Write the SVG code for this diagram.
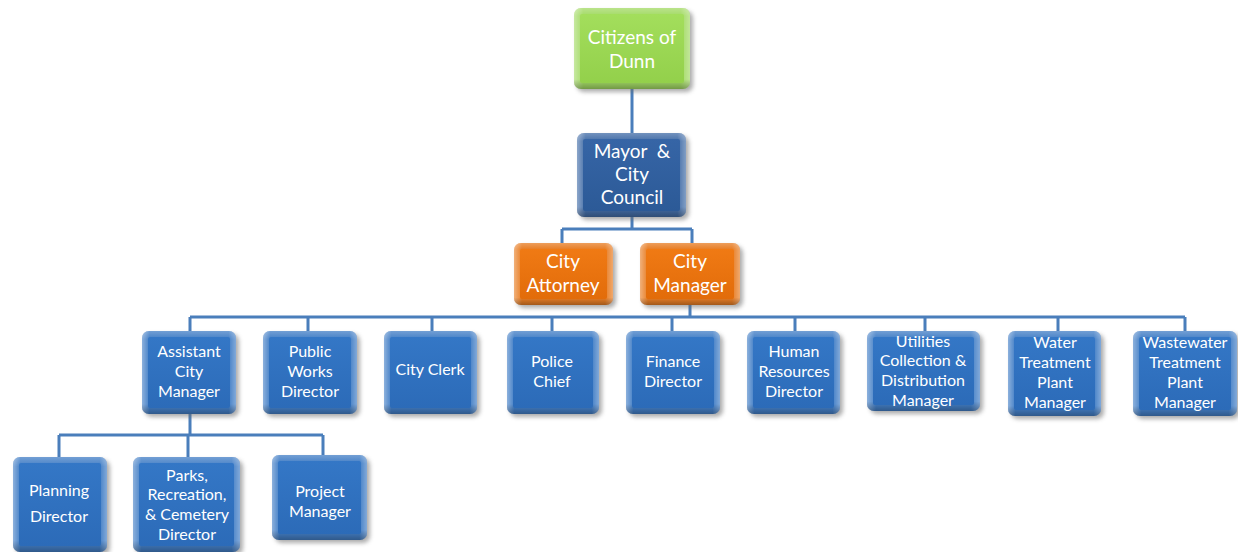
<svg xmlns="http://www.w3.org/2000/svg" width="1238" height="552" viewBox="0 0 1238 552">
<defs>
<filter id="sh" x="-20%" y="-20%" width="140%" height="140%"><feGaussianBlur stdDeviation="2"/></filter>
<linearGradient id="hx" x1="0" y1="0" x2="1" y2="0"><stop offset="0" stop-color="#fff" stop-opacity="0.45"/><stop offset="0.08" stop-color="#fff" stop-opacity="0.1"/><stop offset="0.92" stop-color="#fff" stop-opacity="0.1"/><stop offset="1" stop-color="#fff" stop-opacity="0.4"/></linearGradient>
<linearGradient id="vy" x1="0" y1="0" x2="0" y2="1"><stop offset="0" stop-color="#fff" stop-opacity="0.25"/><stop offset="0.1" stop-color="#fff" stop-opacity="0"/><stop offset="0.88" stop-color="#000" stop-opacity="0"/><stop offset="1" stop-color="#000" stop-opacity="0.3"/></linearGradient>
<linearGradient id="gBlueF" x1="0" y1="0" x2="0" y2="1"><stop offset="0" stop-color="#3477C6"/><stop offset="1" stop-color="#2C6BB8"/></linearGradient>
<linearGradient id="gDarkF" x1="0" y1="0" x2="0" y2="1"><stop offset="0" stop-color="#3665A6"/><stop offset="1" stop-color="#2C5A97"/></linearGradient>
<linearGradient id="gOrF" x1="0" y1="0" x2="0" y2="1"><stop offset="0" stop-color="#F07A14"/><stop offset="1" stop-color="#E26C0A"/></linearGradient>
<linearGradient id="gGrF" x1="0" y1="0" x2="0" y2="1"><stop offset="0" stop-color="#A3DE5C"/><stop offset="1" stop-color="#93D04B"/></linearGradient>
</defs>
<style>
.c{fill:none;stroke:#4A7EBB;stroke-width:3}
.s{fill:#6a6a6a;opacity:0.55;filter:url(#sh)}
.t{fill:#fff;font-family:Lato,"Open Sans","Liberation Sans",sans-serif;text-anchor:middle}
.m{font-size:16px}
.l{font-size:19px}
.h{fill:url(#hx)} .v{fill:url(#vy)}
.be{fill:#2F71C0} .bf{fill:url(#gBlueF)}
.de{fill:#2F5E9E} .df{fill:url(#gDarkF)}
.oe{fill:#E5700E} .of{fill:url(#gOrF)}
.ge{fill:#99D654} .gf{fill:url(#gGrF)}
</style>
<g id="connectors">
<path class="c" d="M632 89V133"/>
<path class="c" d="M632 217V229M562 229H692M562 229V243M692 229V243"/>
<path class="c" d="M690 305V317M190 317H1185M190 317V331M308 317V331M432 317V331M552 317V331M672 317V331M795 317V331M925 317V331M1058 317V331M1185 317V331"/>
<path class="c" d="M190 414V435M59 435H323M59 435V457M188 435V457M323 435V455"/>
</g>
<g id="citizens">
<rect class="s" x="577" y="11" width="116" height="81" rx="7"/>
<rect class="ge" x="574" y="8" width="116" height="81" rx="7"/>
<rect class="h" x="574" y="8" width="116" height="81" rx="7"/>
<rect class="v" x="574" y="8" width="116" height="81" rx="7"/>
<rect class="gf" x="580" y="14" width="104" height="69" rx="2"/>
<text class="t l" x="632" y="44">Citizens of</text><text class="t l" x="632" y="68">Dunn</text>
</g>
<g id="mayor">
<rect class="s" x="580" y="136" width="109" height="84" rx="7"/>
<rect class="de" x="577" y="133" width="109" height="84" rx="7"/>
<rect class="h" x="577" y="133" width="109" height="84" rx="7"/>
<rect class="v" x="577" y="133" width="109" height="84" rx="7"/>
<rect class="df" x="583" y="139" width="97" height="72" rx="2"/>
<text class="t l" x="632" y="158" xml:space="preserve">Mayor  &amp;</text><text class="t l" x="632" y="181">City</text><text class="t l" x="632" y="204">Council</text>
</g>
<g id="attorney">
<rect class="s" x="517" y="246" width="99" height="62" rx="7"/>
<rect class="oe" x="514" y="243" width="99" height="62" rx="7"/>
<rect class="h" x="514" y="243" width="99" height="62" rx="7"/>
<rect class="v" x="514" y="243" width="99" height="62" rx="7"/>
<rect class="of" x="520" y="249" width="87" height="50" rx="2"/>
<text class="t l" x="563" y="268">City</text><text class="t l" x="563" y="292">Attorney</text>
</g>
<g id="manager">
<rect class="s" x="643" y="246" width="100" height="62" rx="7"/>
<rect class="oe" x="640" y="243" width="100" height="62" rx="7"/>
<rect class="h" x="640" y="243" width="100" height="62" rx="7"/>
<rect class="v" x="640" y="243" width="100" height="62" rx="7"/>
<rect class="of" x="646" y="249" width="88" height="50" rx="2"/>
<text class="t l" x="690" y="268">City</text><text class="t l" x="690" y="292">Manager</text>
</g>
<g id="assistant">
<rect class="s" x="145" y="334" width="94" height="83" rx="7"/>
<rect class="be" x="142" y="331" width="94" height="83" rx="7"/>
<rect class="h" x="142" y="331" width="94" height="83" rx="7"/>
<rect class="v" x="142" y="331" width="94" height="83" rx="7"/>
<rect class="bf" x="148" y="337" width="82" height="71" rx="2"/>
<text class="t m" x="189" y="357">Assistant</text><text class="t m" x="189" y="377">City</text><text class="t m" x="189" y="397">Manager</text>
</g>
<g id="publicworks">
<rect class="s" x="266" y="334" width="94" height="83" rx="7"/>
<rect class="be" x="263" y="331" width="94" height="83" rx="7"/>
<rect class="h" x="263" y="331" width="94" height="83" rx="7"/>
<rect class="v" x="263" y="331" width="94" height="83" rx="7"/>
<rect class="bf" x="269" y="337" width="82" height="71" rx="2"/>
<text class="t m" x="310" y="357">Public</text><text class="t m" x="310" y="377">Works</text><text class="t m" x="310" y="397">Director</text>
</g>
<g id="clerk">
<rect class="s" x="387" y="334" width="93" height="83" rx="7"/>
<rect class="be" x="384" y="331" width="93" height="83" rx="7"/>
<rect class="h" x="384" y="331" width="93" height="83" rx="7"/>
<rect class="v" x="384" y="331" width="93" height="83" rx="7"/>
<rect class="bf" x="390" y="337" width="81" height="71" rx="2"/>
<text class="t m" x="430" y="375">City Clerk</text>
</g>
<g id="police">
<rect class="s" x="510" y="334" width="92" height="83" rx="7"/>
<rect class="be" x="507" y="331" width="92" height="83" rx="7"/>
<rect class="h" x="507" y="331" width="92" height="83" rx="7"/>
<rect class="v" x="507" y="331" width="92" height="83" rx="7"/>
<rect class="bf" x="513" y="337" width="80" height="71" rx="2"/>
<text class="t m" x="552" y="367">Police</text><text class="t m" x="552" y="387">Chief</text>
</g>
<g id="finance">
<rect class="s" x="629" y="334" width="94" height="83" rx="7"/>
<rect class="be" x="626" y="331" width="94" height="83" rx="7"/>
<rect class="h" x="626" y="331" width="94" height="83" rx="7"/>
<rect class="v" x="626" y="331" width="94" height="83" rx="7"/>
<rect class="bf" x="632" y="337" width="82" height="71" rx="2"/>
<text class="t m" x="673" y="367">Finance</text><text class="t m" x="673" y="387">Director</text>
</g>
<g id="hr">
<rect class="s" x="750" y="334" width="93" height="83" rx="7"/>
<rect class="be" x="747" y="331" width="93" height="83" rx="7"/>
<rect class="h" x="747" y="331" width="93" height="83" rx="7"/>
<rect class="v" x="747" y="331" width="93" height="83" rx="7"/>
<rect class="bf" x="753" y="337" width="81" height="71" rx="2"/>
<text class="t m" x="794" y="357">Human</text><text class="t m" x="794" y="377">Resources</text><text class="t m" x="794" y="397">Director</text>
</g>
<g id="utilities">
<rect class="s" x="870" y="334" width="113" height="80" rx="7"/>
<rect class="be" x="867" y="331" width="113" height="80" rx="7"/>
<rect class="h" x="867" y="331" width="113" height="80" rx="7"/>
<rect class="v" x="867" y="331" width="113" height="80" rx="7"/>
<rect class="bf" x="873" y="337" width="101" height="68" rx="2"/>
<text class="t m" x="923" y="347">Utilities</text><text class="t m" x="923" y="366">Collection &amp;</text><text class="t m" x="923" y="386">Distribution</text><text class="t m" x="923" y="406">Manager</text>
</g>
<g id="water">
<rect class="s" x="1011" y="334" width="93" height="85" rx="7"/>
<rect class="be" x="1008" y="331" width="93" height="85" rx="7"/>
<rect class="h" x="1008" y="331" width="93" height="85" rx="7"/>
<rect class="v" x="1008" y="331" width="93" height="85" rx="7"/>
<rect class="bf" x="1014" y="337" width="81" height="73" rx="2"/>
<text class="t m" x="1055" y="348">Water</text><text class="t m" x="1055" y="368">Treatment</text><text class="t m" x="1055" y="388">Plant</text><text class="t m" x="1055" y="408">Manager</text>
</g>
<g id="wastewater">
<rect class="s" x="1136" y="334" width="104" height="85" rx="7"/>
<rect class="be" x="1133" y="331" width="104" height="85" rx="7"/>
<rect class="h" x="1133" y="331" width="104" height="85" rx="7"/>
<rect class="v" x="1133" y="331" width="104" height="85" rx="7"/>
<rect class="bf" x="1139" y="337" width="92" height="73" rx="2"/>
<text class="t m" x="1185" y="348">Wastewater</text><text class="t m" x="1185" y="368">Treatment</text><text class="t m" x="1185" y="388">Plant</text><text class="t m" x="1185" y="408">Manager</text>
</g>
<g id="planning">
<rect class="s" x="16" y="460" width="94" height="95" rx="7"/>
<rect class="be" x="13" y="457" width="94" height="95" rx="7"/>
<rect class="h" x="13" y="457" width="94" height="95" rx="7"/>
<rect class="v" x="13" y="457" width="94" height="95" rx="7"/>
<rect class="bf" x="19" y="463" width="82" height="83" rx="2"/>
<text class="t m" x="59" y="496">Planning</text><text class="t m" x="59" y="522">Director</text>
</g>
<g id="parks">
<rect class="s" x="136" y="460" width="107" height="95" rx="7"/>
<rect class="be" x="133" y="457" width="107" height="95" rx="7"/>
<rect class="h" x="133" y="457" width="107" height="95" rx="7"/>
<rect class="v" x="133" y="457" width="107" height="95" rx="7"/>
<rect class="bf" x="139" y="463" width="95" height="83" rx="2"/>
<text class="t m" x="187" y="481">Parks,</text><text class="t m" x="187" y="500">Recreation,</text><text class="t m" x="187" y="520">&amp; Cemetery</text><text class="t m" x="187" y="540">Director</text>
</g>
<g id="project">
<rect class="s" x="275" y="458" width="95" height="85" rx="7"/>
<rect class="be" x="272" y="455" width="95" height="85" rx="7"/>
<rect class="h" x="272" y="455" width="95" height="85" rx="7"/>
<rect class="v" x="272" y="455" width="95" height="85" rx="7"/>
<rect class="bf" x="278" y="461" width="83" height="73" rx="2"/>
<text class="t m" x="320" y="497">Project</text><text class="t m" x="320" y="517">Manager</text>
</g>
</svg>
